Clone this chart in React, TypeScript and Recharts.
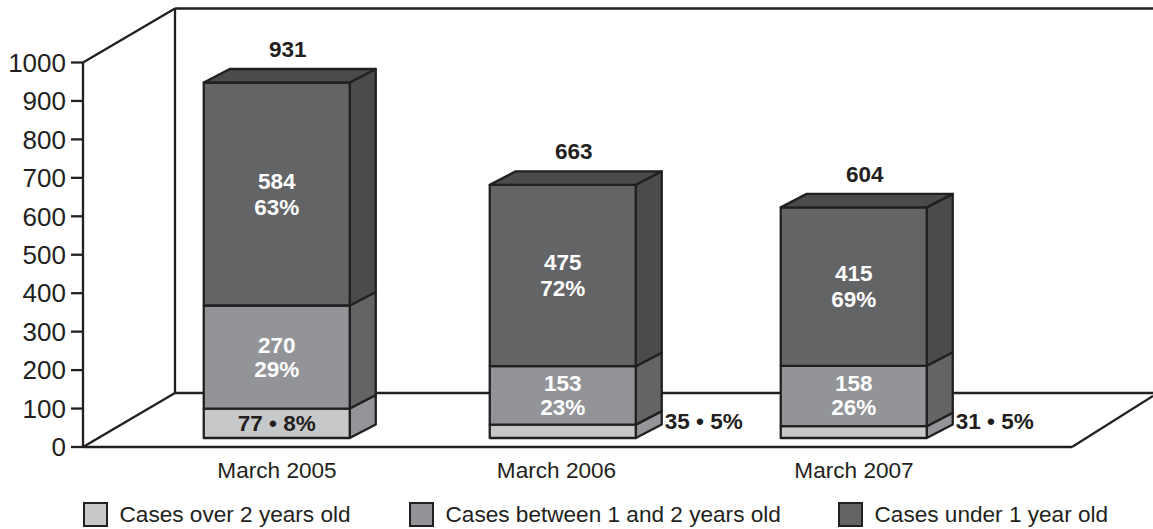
import { ComposedChart, Bar, Line, XAxis, YAxis, Legend, usePlotArea } from "recharts"

const MONTHS = ["March 2005", "March 2006", "March 2007"]
const SERIES_NAMES = ["Cases over 2 years old", "Cases between 1 and 2 years old", "Cases under 1 year old"]
const OVER_TWO = [77, 35, 31]
const ONE_TO_TWO = [270, 153, 158]
const UNDER_ONE = [584, 475, 415]
const OVER_TWO_PCT = [8, 5, 5]
const ONE_TO_TWO_PCT = [29, 23, 26]
const UNDER_ONE_PCT = [63, 72, 69]
const TOTALS = [931, 663, 604]
const Y_TICKS = [0, 100, 200, 300, 400, 500, 600, 700, 800, 900, 1000]

const INK = "#231f20"
const FONT = '"Liberation Sans", Arial, sans-serif'
const LINE = 2.3
// 3D look of the original
const DX = 26
const DY = 13.5
const LIFT = 9
const BAR_NUDGE = [0, -2.5, 0]
const LABEL_NUDGE = [0, -9, 0]
const LEGEND_X = [82.5, 408.5, 837.5]

const data = MONTHS.map((name, i) => ({
  name,
  over: OVER_TWO[i],
  mid: ONE_TO_TWO[i],
  under: UNDER_ONE[i],
  total: TOTALS[i],
}))

function Backdrop() {
  const p = usePlotArea()
  if (!p) return null
  const bx = p.x + 92
  const top = p.y - 54
  const floor = p.y + p.height
  const right = p.x + p.width
  const lines = [
    [p.x, p.y, bx, top],
    [bx, top, 1153, top],
    [bx, top, bx, floor - 54],
    [p.x, floor, bx, floor - 54],
    [bx, floor - 54, 1153, floor - 54],
    [right, floor, 1153, floor - 51],
  ]
  return (
    <g stroke={INK} strokeWidth={LINE}>
      {lines.map((l, i) => (
        <line key={i} x1={l[0]} y1={l[1]} x2={l[2]} y2={l[3]} />
      ))}
    </g>
  )
}

function boldText(x: number, y: number, text: string, fill: string, anchor = "middle") {
  return (
    <text x={x} y={y} fill={fill} textAnchor={anchor} dominantBaseline="central"
      fontFamily={FONT} fontWeight={700} fontSize={22.5} stroke="none">
      {text}
    </text>
  )
}

function makeShape(side: string, kind: "over" | "mid" | "under") {
  return function Block3D(props: any) {
    const { width: w, height: h, index, fill } = props
    const x = props.x + BAR_NUDGE[index]
    const y = props.y - LIFT
    const cx = x + w / 2
    const cy = y + h / 2
    const sidePts = `${x + w},${y} ${x + w + DX},${y - DY} ${x + w + DX},${y + h - DY} ${x + w},${y + h}`
    const topPts = `${x},${y} ${x + DX},${y - DY} ${x + w + DX},${y - DY} ${x + w},${y}`
    return (
      <g stroke={INK} strokeWidth={LINE} strokeLinejoin="round">
        <polygon points={sidePts} fill={side} />
        <rect x={x} y={y} width={w} height={h} fill={fill} />
        {kind === "under" && <polygon points={topPts} fill={side} />}
        {kind === "under" && boldText(cx + 11, y - 33, String(TOTALS[index]), INK)}
        {kind === "under" && boldText(cx, cy - 13, String(UNDER_ONE[index]), "#fff")}
        {kind === "under" && boldText(cx, cy + 13, `${UNDER_ONE_PCT[index]}%`, "#fff")}
        {kind === "mid" && boldText(cx, cy - 12, String(ONE_TO_TWO[index]), "#fff")}
        {kind === "mid" && boldText(cx, cy + 12, `${ONE_TO_TWO_PCT[index]}%`, "#fff")}
        {kind === "over" && h > 20 && boldText(cx, cy, `${OVER_TWO[index]} • ${OVER_TWO_PCT[index]}%`, INK)}
        {kind === "over" && h <= 20 &&
          boldText(x + w + 29, y + h - 17, `${OVER_TWO[index]} • ${OVER_TWO_PCT[index]}%`, INK, "start")}
      </g>
    )
  }
}

function MonthTick({ x, y, payload, index }: any) {
  return (
    <text x={x + LABEL_NUDGE[index]} y={y + 15} textAnchor="middle" dominantBaseline="central"
      fontFamily={FONT} fontSize={22.6} fill={INK}>
      {payload.value}
    </text>
  )
}

function LegendRow({ payload }: any) {
  const items = SERIES_NAMES.map((n) => (payload ?? []).find((p: any) => p.value === n)).filter(Boolean)
  return (
    <div style={{ position: "relative", height: 0 }}>
      {items.map((item: any, i: number) => (
        <div key={item.value} style={{ position: "absolute", left: LEGEND_X[i], top: 0, height: 26, whiteSpace: "nowrap", display: "flex", alignItems: "center" }}>
          <span style={{ display: "inline-block", width: 21, height: 21, border: `2.3px solid ${INK}`, background: item.color, marginRight: 12 }} />
          <span style={{ fontFamily: FONT, fontSize: 22.6, lineHeight: "26px", color: INK }}>{item.value}</span>
        </div>
      ))}
    </div>
  )
}

export default function App() {
  return (
    <div style={{ position: "absolute", left: 0, top: 0, width: 1153, height: 529, background: "#fff" }}>
      <ComposedChart width={1153} height={529} data={data} barSize={146} margin={{ top: 62.5, right: 81, bottom: 0, left: 0 }}>
        <Backdrop />
        <XAxis dataKey="name" scale="band" height={82} padding={{ left: 49.75, right: 73.75 }} interval={0}
          axisLine={{ stroke: INK, strokeWidth: LINE }} tickLine={false} tick={<MonthTick />} />
        <YAxis width={83} domain={[0, 1000]} ticks={Y_TICKS} interval={0} tickSize={12} tickMargin={5}
          axisLine={{ stroke: INK, strokeWidth: LINE }} tickLine={{ stroke: INK, strokeWidth: LINE }}
          tick={{ fontFamily: FONT, fontSize: 26, fill: INK }} />
        <YAxis yAxisId="bars" hide domain={[0, 1007]} />
        <Legend verticalAlign="bottom" content={<LegendRow />}
          wrapperStyle={{ left: 0, top: 501.5, bottom: "auto", width: 1153, height: 0 }} />
        {/* keeps the visible axis alive, the blocks run on the "bars" axis */}
        <Line dataKey="total" stroke="none" dot={false} activeDot={false} legendType="none" isAnimationActive={false} />
        <Bar dataKey="over" name={SERIES_NAMES[0]} yAxisId="bars" stackId="a" fill="#c7c8ca"
          shape={makeShape("#939598", "over")} isAnimationActive={false} />
        <Bar dataKey="mid" name={SERIES_NAMES[1]} yAxisId="bars" stackId="a" fill="#929497"
          shape={makeShape("#636466", "mid")} isAnimationActive={false} />
        <Bar dataKey="under" name={SERIES_NAMES[2]} yAxisId="bars" stackId="a" fill="#636466"
          shape={makeShape("#4a4b4d", "under")} isAnimationActive={false} />
      </ComposedChart>
    </div>
  )
}
